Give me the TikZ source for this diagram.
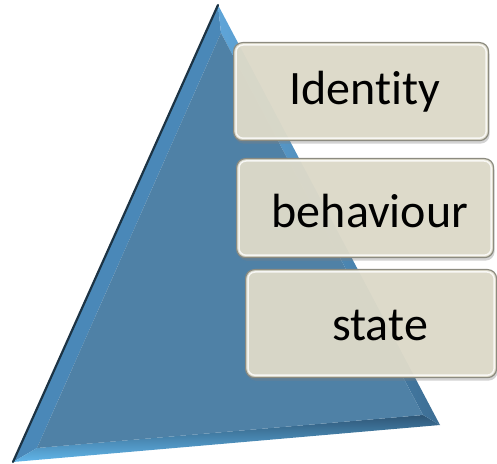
\documentclass[tikz,border=0pt]{standalone}
\usepackage{fontspec}
\setmainfont[Ligatures=NoCommon]{Carlito}
\usetikzlibrary{shadows}
\definecolor{face}{HTML}{4F81A6}
\definecolor{leftfacet}{HTML}{4A88B8}
\definecolor{darkedge}{HTML}{1C3344}
\definecolor{botdark}{HTML}{2E5676}
\definecolor{botlight}{HTML}{62B6EA}
\definecolor{rightfacet}{HTML}{5FA5D8}
\definecolor{boxfill}{HTML}{DEDBCA}
\definecolor{boxline}{HTML}{8C8B80}
\tikzset{
  label box/.style={draw=boxline, line width=1.2pt, rounded corners=9pt,
    fill=boxfill, fill opacity=0.95, text opacity=1,
    drop shadow={shadow xshift=1pt, shadow yshift=-3pt, opacity=0.35},
    inner sep=0pt},
  label text/.style={font=\fontsize{48}{48}\selectfont, text=black}
}
\begin{document}
\begin{tikzpicture}[x=1pt,y=1pt]
\useasboundingbox (0,0) rectangle (497,463);
% outer and inner corners of the pyramid
\coordinate (A) at (218,458);
\coordinate (B) at (13,1);
\coordinate (C) at (440,38);
\coordinate (Ai) at (221,430);
\coordinate (Bi) at (37,15);
\coordinate (Ci) at (423,48);
% facets
\fill[leftfacet] (A) -- (B) -- (Bi) -- (Ai) -- cycle;
\shade[top color=botdark, bottom color=botlight] (B) -- (C) -- (Ci) -- (Bi) -- cycle;
\shade[left color=rightfacet, right color=botdark!70!rightfacet] (C) -- (A) -- (Ai) -- (Ci) -- cycle;
\fill[face] (Ai) -- (Bi) -- (Ci) -- cycle;
\draw[darkedge, line width=2.2pt, line cap=round] (A) -- (B);
% label boxes
\node[label box, minimum width=255pt, minimum height=98pt, anchor=north west] (id) at (233,421) {};
\node[label box, minimum width=257pt, minimum height=99pt, anchor=north west] (beh) at (236,305) {};
\node[label box, minimum width=251pt, minimum height=108pt, anchor=north west] (st) at (245,194) {};
% inner highlight
\foreach \n in {id,beh,st}{
  \draw[white, opacity=0.8, line width=1.5pt, rounded corners=7pt]
    ([shift={(3pt,3pt)}]\n.south west) rectangle ([shift={(-3pt,-3pt)}]\n.north east);
}
\node[label text] (tid) at (365,371) {Identity};
\node[label text] (tbeh) at (370,252) {behaviour};
\node[label text] (tst) at (380,138) {state};
\end{tikzpicture}
\end{document}
